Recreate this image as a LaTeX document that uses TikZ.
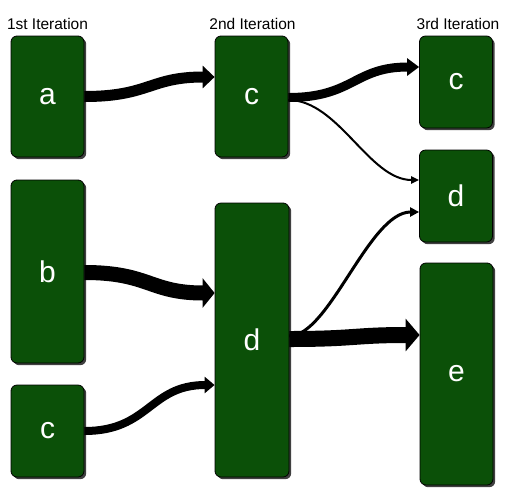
\documentclass[tikz,border=0pt]{standalone}
\usepackage{fontspec}
\setmainfont{Liberation Sans}
\usetikzlibrary{arrows.meta,shadows}
\definecolor{boxgreen}{RGB}{11,80,8}
\begin{document}
\begin{tikzpicture}[x=1pt,y=-1pt,
  box/.style={draw=black, line width=0.8pt, fill=boxgreen, rounded corners=6pt,
    text=white, font=\fontsize{30}{30}\selectfont, minimum width=73pt, inner sep=0pt,
    drop shadow={shadow xshift=2.2pt, shadow yshift=-2.2pt, fill=black!75, opacity=1}},
  lbl/.style={font=\fontsize{15.5}{15.5}\selectfont, inner sep=0pt},
  flow/.style={draw=black, line cap=butt}]
\useasboundingbox (0,0) rectangle (506,491);

% labels
\node[lbl] (l1) at (47.5,24) {1st Iteration};
\node[lbl] (l2) at (252.5,24) {2nd Iteration};
\node[lbl] (l3) at (458,24) {3rd Iteration};

% boxes
\node[box, minimum height=121pt] (a)  at (47.5,96.5) {a};
\node[box, minimum height=183pt] (b)  at (47.5,271.5) {b};
\node[box, minimum height=92pt]  (c1) at (47.5,431) {c};
\node[box, minimum height=121pt, minimum width=73pt] (c2) at (251.5,96.5) {c};
\node[box, minimum height=274pt, minimum width=74pt] (d2) at (252,340) {d};
\node[box, minimum height=92pt]  (c3) at (456,82) {c};
\node[box, minimum height=92pt]  (d3) at (456,196) {d};
\node[box, minimum height=222pt] (e)  at (456.5,374) {e};

% thin connectors
\draw[flow, line width=2pt, -{Triangle[length=8pt,width=7pt]}]
  ([yshift=-3.5pt]c2.east) .. controls +(50,0) and +(-50,0) .. ([yshift=16pt]d3.west);
\draw[flow, line width=3pt, -{Triangle[length=9pt,width=9pt]}]
  ([yshift=4pt]d2.east) .. controls +(40,0) and +(-50,0) .. ([yshift=-16pt]d3.west);

% thick connectors
\draw[flow, line width=11pt, -{Triangle[length=12pt,width=22pt]}]
  (a.east) .. controls +(65,0) and +(-65,0) .. ([yshift=19.5pt]c2.west);
\draw[flow, line width=9pt, -{Triangle[length=12pt,width=17pt]}]
  ([yshift=-1pt]c2.east) .. controls +(65,0) and +(-65,0) .. ([yshift=15pt]c3.west);
\draw[flow, line width=15pt, -{Triangle[length=12pt,width=29pt]}]
  ([yshift=-1pt]b.east) .. controls +(65,0) and +(-65,0) .. ([yshift=47pt]d2.west);
\draw[flow, line width=8pt, -{Triangle[length=10pt,width=16pt]}]
  (c1.east) .. controls +(65,0) and +(-65,0) .. ([yshift=-45pt]d2.west);
\draw[flow, line width=16pt, -{Triangle[length=14pt,width=32pt]}]
  ([yshift=1pt]d2.east) .. controls +(65,0) and +(-65,0) .. ([yshift=39pt]e.west);
\end{tikzpicture}
\end{document}
